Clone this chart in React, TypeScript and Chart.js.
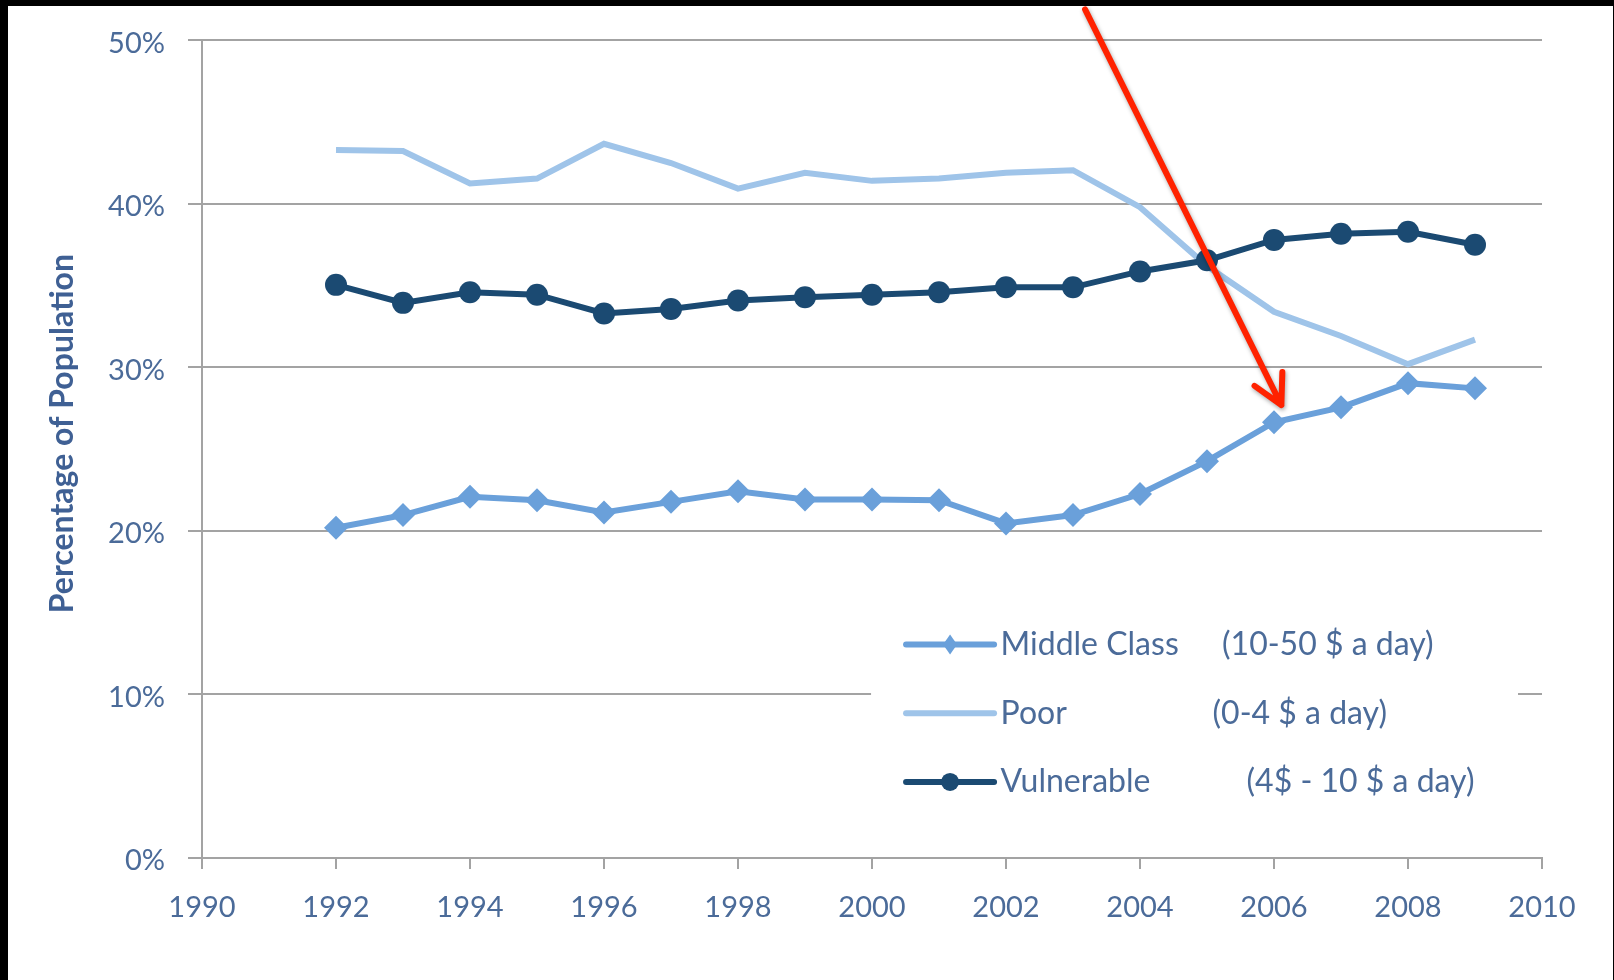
import React, { useEffect, useRef } from "react";
import { Chart, registerables } from "chart.js";

Chart.register(...registerables);

const years = [1992, 1993, 1994, 1995, 1996, 1997, 1998, 1999, 2000, 2001, 2002, 2003, 2004, 2005, 2006, 2007, 2008, 2009];
const middleClass = [20.2, 20.97, 22.09, 21.88, 21.13, 21.78, 22.43, 21.92, 21.92, 21.88, 20.46, 20.97, 22.26, 24.27, 26.65, 27.56, 29.04, 28.72];
const poor = [43.3, 43.24, 41.25, 41.55, 43.68, 42.5, 40.94, 41.9, 41.41, 41.55, 41.9, 42.06, 39.8, 36.2, 33.4, 31.92, 30.2, 31.7];
const vulnerable = [35.05, 33.95, 34.6, 34.45, 33.3, 33.58, 34.09, 34.29, 34.45, 34.6, 34.9, 34.9, 35.87, 36.55, 37.8, 38.17, 38.3, 37.5];

const seriesNames = ["Middle Class", "Poor", "Vulnerable"];
const seriesNotes = ["(10-50 $ a day)", "(0-4 $ a day)", "(4$ - 10 $ a day)"];
const yAxisTitle = "Percentage of Population";

// Arrow annotation in data space: [year, percent]
const arrowFrom = [2003.18, 51.9];
const arrowTo = [2006.11, 27.7];

const TEXT = "#4b6b99";
const DARK = "#1b4a72";
const MID = "#6aa0da";
const LIGHT = "#9fc4e9";
const GRID = "#a3a3a3";
const FONT = "Lato, 'Open Sans', sans-serif";

const toPts = (vals: number[]) => years.map((y, i) => ({ x: y, y: vals[i] }));

const overlayPlugin = {
  id: "overlay",
  beforeDraw(chart: any) {
    const { ctx, width, height } = chart;
    ctx.save();
    ctx.fillStyle = "#ffffff";
    ctx.fillRect(0, 0, width, height);
    ctx.restore();
  },
  afterDatasetsDraw(chart: any) {
    const { ctx } = chart;
    const xs = chart.scales.x;
    const ys = chart.scales.y;
    const ca = chart.chartArea;

    // legend box
    const boxL = ca.left + (ca.right - ca.left) * 0.4993;
    const boxR = ca.left + (ca.right - ca.left) * 0.9821;
    const rowY0 = ys.getPixelForValue(13.05);
    const rowGap = ys.getPixelForValue(0) - ys.getPixelForValue(4.2);
    ctx.save();
    ctx.fillStyle = "#ffffff";
    ctx.fillRect(boxL, rowY0 - 40, boxR - boxL, rowGap * 2 + 80);
    const sampleL = boxL + 35;
    const sampleR = boxL + 123;
    const textX = boxL + 129.5;
    const noteX = [boxL + 351, boxL + 341.5, boxL + 375.5];
    const colors = [MID, LIGHT, DARK];
    ctx.font = `32px ${FONT}`;
    ctx.textBaseline = "middle";
    for (let i = 0; i < 3; i++) {
      const y = rowY0 + i * rowGap;
      ctx.strokeStyle = colors[i];
      ctx.lineWidth = 6;
      ctx.lineCap = "round";
      ctx.beginPath();
      ctx.moveTo(sampleL, y);
      ctx.lineTo(sampleR, y);
      ctx.stroke();
      const cx = (sampleL + sampleR) / 2;
      ctx.fillStyle = colors[i];
      if (i === 0) {
        ctx.beginPath();
        ctx.moveTo(cx, y - 10);
        ctx.lineTo(cx + 7, y);
        ctx.lineTo(cx, y + 10);
        ctx.lineTo(cx - 7, y);
        ctx.closePath();
        ctx.fill();
      } else if (i === 2) {
        ctx.beginPath();
        ctx.arc(cx, y, 9, 0, Math.PI * 2);
        ctx.fill();
      }
      ctx.fillStyle = TEXT;
      ctx.textAlign = "left";
      ctx.fillText(seriesNames[i], textX, y);
      ctx.fillText(seriesNotes[i], noteX[i], y);
    }
    ctx.restore();

    // red arrow
    const x1 = xs.getPixelForValue(arrowFrom[0]);
    const y1 = ys.getPixelForValue(arrowFrom[1]);
    const x2 = xs.getPixelForValue(arrowTo[0]);
    const y2 = ys.getPixelForValue(arrowTo[1]);
    const ang = Math.atan2(y2 - y1, x2 - x1) + Math.PI;
    const hl = 33;
    const spread = 0.49;
    ctx.save();
    ctx.strokeStyle = "#ff2200";
    ctx.lineWidth = 6;
    ctx.lineCap = "round";
    ctx.lineJoin = "round";
    ctx.shadowColor = "rgba(0,0,0,0.35)";
    ctx.shadowBlur = 4;
    ctx.shadowOffsetX = 1;
    ctx.shadowOffsetY = 2;
    ctx.beginPath();
    ctx.moveTo(x1, y1);
    ctx.lineTo(x2, y2);
    ctx.moveTo(x2 + hl * Math.cos(ang - spread), y2 + hl * Math.sin(ang - spread));
    ctx.lineTo(x2, y2);
    ctx.lineTo(x2 + hl * Math.cos(ang + spread), y2 + hl * Math.sin(ang + spread));
    ctx.stroke();
    ctx.restore();
  },
  afterDraw(chart: any) {
    const { ctx, width, height } = chart;
    ctx.save();
    ctx.fillStyle = "#000000";
    ctx.fillRect(0, 0, width, 6);
    ctx.fillRect(0, 0, 8, height);
    ctx.fillRect(width - 1, 0, 1, height);
    ctx.restore();
  },
};

export default function App() {
  const ref = useRef<HTMLCanvasElement | null>(null);
  useEffect(() => {
    if (!ref.current) return;
    const chart = new Chart(ref.current, {
      type: "line",
      data: {
        datasets: [
          {
            label: seriesNames[0],
            data: toPts(middleClass),
            borderColor: MID,
            backgroundColor: MID,
            borderWidth: 6,
            pointStyle: "rectRot",
            pointRadius: 12,
            pointBorderWidth: 0,
            pointBackgroundColor: MID,
            order: 0,
          },
          {
            label: seriesNames[1],
            data: toPts(poor),
            borderColor: LIGHT,
            backgroundColor: LIGHT,
            borderWidth: 6,
            pointRadius: 0,
            order: 2,
          },
          {
            label: seriesNames[2],
            data: toPts(vulnerable),
            borderColor: DARK,
            backgroundColor: DARK,
            borderWidth: 6,
            pointStyle: "circle",
            pointRadius: 11,
            pointBorderWidth: 0,
            pointBackgroundColor: DARK,
            order: 1,
          },
        ],
      },
      options: {
        responsive: false,
        animation: false,
        events: [],
        layout: { padding: { left: 0, top: 37, right: 72, bottom: 0 } },
        plugins: {
          legend: { display: false },
          tooltip: { enabled: false },
        },
        scales: {
          x: {
            type: "linear",
            min: 1990,
            max: 2010,
            ticks: {
              stepSize: 2,
              color: TEXT,
              font: { family: FONT, size: 29 },
              padding: 21,
              maxRotation: 0,
              callback: (v: any) => String(v),
            },
            grid: { display: true, drawOnChartArea: false, drawTicks: true, tickLength: 11, color: GRID, lineWidth: 2 },
            border: { display: true, color: GRID, width: 2 },
            afterFit: (s: any) => { s.height = 122; },
          },
          y: {
            min: 0,
            max: 50,
            ticks: {
              stepSize: 10,
              color: TEXT,
              font: { family: FONT, size: 29 },
              padding: 23,
              labelOffset: 3,
              callback: (v: any) => v + "%",
            },
            grid: { color: GRID, lineWidth: 2, tickLength: 14, drawTicks: true },
            border: { display: true, color: GRID, width: 2 },
            title: {
              display: true,
              text: "    " + yAxisTitle,
              color: "#3f6094",
              font: { family: FONT, size: 32, weight: "bold" },
              padding: { top: 43, bottom: 0 },
            },
            afterFit: (s: any) => { s.width = 202; },
          },
        },
      },
      plugins: [overlayPlugin],
    });
    return () => chart.destroy();
  }, []);
  return (
    <div style={{ position: "fixed", left: 0, top: 0, width: 1614, height: 980, background: "#fff" }}>
      <canvas ref={ref} width={1614} height={980} style={{ display: "block" }} />
    </div>
  );
}
